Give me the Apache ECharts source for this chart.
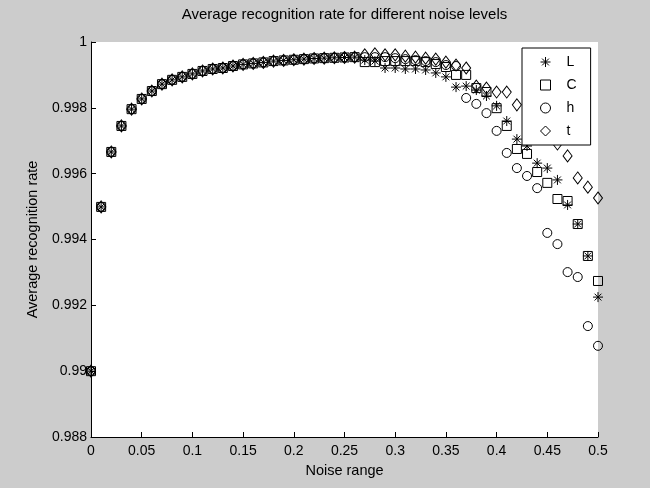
<!DOCTYPE html>
<html><head><meta charset="utf-8">
<script src="https://cdn.jsdelivr.net/npm/echarts@6/dist/echarts.min.js"></script>
<style>html,body{margin:0;padding:0;background:#cccccc}#c{width:650px;height:488px}</style>
</head><body><div id="c"></div>
<script>
const noiseRange = [0,0.01,0.02,0.03,0.04,0.05,0.06,0.07,0.08,0.09,0.10,0.11,0.12,0.13,0.14,0.15,0.16,0.17,0.18,0.19,0.20,0.21,0.22,0.23,0.24,0.25,0.26,0.27,0.28,0.29,0.30,0.31,0.32,0.33,0.34,0.35,0.36,0.37,0.38,0.39,0.40,0.41,0.42,0.43,0.44,0.45,0.46,0.47,0.48,0.49,0.50];
const rateL = [0.99000,0.99499,0.99666,0.99745,0.99796,0.99827,0.99851,0.99872,0.99885,0.99894,0.99903,0.99912,0.99918,0.99921,0.99927,0.99932,0.99935,0.99938,0.99942,0.99944,0.99946,0.99948,0.99950,0.99951,0.99952,0.99953,0.99954,
  0.99945,0.99942,0.99921,0.99921,0.99918,0.99918,0.99915,0.99906,0.99894,0.99863,0.99866,0.99854,0.99836,0.99806,0.99760,0.99705,0.99684,0.99632,0.99617,0.99581,0.99505,0.99447,0.99350,0.99225];
const rateC = [0.99000,0.99499,0.99666,0.99745,0.99796,0.99827,0.99851,0.99872,0.99885,0.99894,0.99903,0.99912,0.99918,0.99921,0.99927,0.99932,0.99935,0.99938,0.99942,0.99944,0.99946,0.99948,0.99950,0.99951,0.99952,0.99953,0.99954,
  0.99939,0.99939,0.99942,0.99942,0.99942,0.99942,0.99939,0.99933,0.99924,0.99900,0.99900,0.99860,0.99848,0.99799,0.99745,0.99675,0.99660,0.99605,0.99572,0.99523,0.99517,0.99447,0.99350,0.99274];
const rateH = [0.99000,0.99499,0.99666,0.99745,0.99796,0.99827,0.99851,0.99872,0.99885,0.99894,0.99903,0.99912,0.99918,0.99921,0.99927,0.99932,0.99935,0.99938,0.99942,0.99944,0.99946,0.99948,0.99950,0.99951,0.99952,0.99953,0.99954,
  0.99954,0.99954,0.99954,0.99951,0.99948,0.99945,0.99942,0.99939,0.99930,0.99927,0.99830,0.99812,0.99784,0.99730,0.99663,0.99617,0.99593,0.99556,0.99420,0.99386,0.99301,0.99286,0.99137,0.99077];
const rateT = [0.99000,0.99499,0.99666,0.99745,0.99796,0.99827,0.99851,0.99872,0.99885,0.99894,0.99903,0.99912,0.99918,0.99921,0.99927,0.99932,0.99935,0.99938,0.99942,0.99944,0.99946,0.99948,0.99950,0.99951,0.99952,0.99953,0.99954,
  0.99961,0.99964,0.99961,0.99961,0.99957,0.99954,0.99951,0.99948,0.99939,0.99930,0.99921,0.99866,0.99860,0.99848,0.99848,0.99809,0.99778,0.99748,0.99721,0.99690,0.99654,0.99587,0.99559,0.99526];
const seriesNames = ['L','C','h','t'];
const seriesRates = [rateL, rateC, rateH, rateT];

const FONT = 'Arial, "Liberation Sans", sans-serif';
const starPath = 'path://M5,0L5,10M0,5L10,5M1.6,1.6L8.4,8.4M1.6,8.4L8.4,1.6';
const markerSymbols = [starPath, 'rect', 'circle', 'diamond'];
const markerSizes = [10, 9, 9, [9, 12]];

const chart = echarts.init(document.getElementById('c'), null, {renderer: 'canvas'});
chart.setOption({
  backgroundColor: '#cccccc',
  animation: false,
  title: {
    text: 'Average recognition rate for different noise levels',
    left: 344.5, top: 7, padding: 0, textAlign: 'center',
    textStyle: {fontFamily: FONT, fontSize: 15, fontWeight: 'normal', color: '#000'}
  },
  legend: {
    data: seriesNames,
    orient: 'vertical',
    left: 522, top: 48,
    padding: [7, 14, 7, 18],
    itemWidth: 10, itemHeight: 10, itemGap: 9,
    backgroundColor: '#fff', borderColor: '#000', borderWidth: 1,
    itemStyle: {color: 'rgba(0,0,0,0)', borderColor: '#000', borderWidth: 1},
    textStyle: {fontFamily: FONT, fontSize: 14, color: '#000', padding: [0, 0, 0, 11]},
    selectedMode: false
  },
  grid: {left: 91, right: 52, top: 42, bottom: 51, show: true, backgroundColor: '#fff', borderWidth: 0},
  xAxis: {
    type: 'value', min: 0, max: 0.5, interval: 0.05,
    name: 'Noise range', nameLocation: 'middle', nameGap: 26,
    nameTextStyle: {fontFamily: FONT, fontSize: 14.5, color: '#000'},
    axisLine: {lineStyle: {color: '#000', width: 1}},
    axisTick: {inside: true, length: 5, lineStyle: {color: '#000'}},
    axisLabel: {fontFamily: FONT, fontSize: 14, color: '#000', margin: 7,
      formatter: v => String(+v.toFixed(3))},
    splitLine: {show: false}
  },
  yAxis: {
    type: 'value', min: 0.988, max: 1, interval: 0.002,
    name: 'Average recognition rate', nameLocation: 'middle', nameGap: 51,
    nameTextStyle: {fontFamily: FONT, fontSize: 14.5, color: '#000'},
    axisLine: {show: true, lineStyle: {color: '#000', width: 1}},
    axisTick: {show: true, inside: true, length: 5, lineStyle: {color: '#000'}},
    axisLabel: {fontFamily: FONT, fontSize: 14, color: '#000', margin: 4,
      formatter: v => String(+v.toFixed(3))},
    splitLine: {show: false}
  },
  series: seriesNames.map((name, i) => ({
    name: name,
    type: 'scatter',
    symbol: markerSymbols[i],
    symbolSize: markerSizes[i],
    itemStyle: {color: 'rgba(0,0,0,0)', borderColor: '#000', borderWidth: 1, opacity: 1},
    emphasis: {disabled: true},
    data: noiseRange.map((x, k) => [x, seriesRates[i][k]])
  }))
});
</script></body></html>
